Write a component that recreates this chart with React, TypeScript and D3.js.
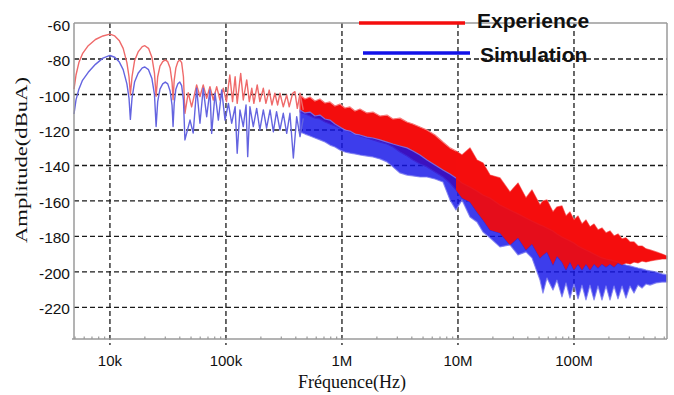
import React from "react";
import * as d3 from "d3";

const W = 674;
const H = 395;

// Axis definitions
const xDomain: [number, number] = [4900, 633.5e6];
const yDomain: [number, number] = [-237.8, -59.7];
const xTickValues = [1e4, 1e5, 1e6, 1e7, 1e8];
const xTickLabels = ["10k", "100k", "1M", "10M", "100M"];
const yTickValues = [-60, -80, -100, -120, -140, -160, -180, -200, -220];
const seriesNames = ["Experience", "Simulation"];
const xTitle = "Fréquence(Hz)";
const yTitle = "Amplitude(dBuA)";
const overlapSwitchFreq = 9.6e6; // above this the experience band is drawn on top

// Low-frequency / sparse part of the spectra (Hz, dBuA)
const redLineFreq = [4900, 5100, 5400, 5800, 6500, 7500, 8700, 10000, 11000, 12000, 13000, 14000, 14600, 15000, 15500, 16300, 17500, 19000, 20000, 21500, 23000, 24200, 25000, 25800, 27000, 28500, 30000, 31500, 33000, 34300, 35000, 35800, 37000, 38500, 40000, 41500, 43000, 44300, 47300, 50600, 55900, 59700, 63700, 68200, 72800, 77800, 83200, 88800, 94900, 101000, 108000, 114000, 120000, 125000, 134000, 141000, 151000, 159000, 167000, 174000, 186000, 196000, 210000, 221000, 236000, 249000, 264000, 279000, 292000, 312000, 334000, 351000, 376000, 393000, 412000, 435000, 464000];
const redLineVal = [-97, -89, -82, -77, -72.5, -69, -67, -66, -67, -69.5, -74, -82, -90, -100, -90, -81, -76, -73, -72.5, -74, -79, -88, -101, -90, -84, -81.5, -80.5, -81.5, -85, -93, -103, -92, -85, -81.5, -80.5, -82, -90, -110.6, -99, -107, -94.6, -101.2, -94.6, -102.1, -95.6, -103.1, -95.6, -103.1, -96.5, -104, -89, -104, -90, -105, -88.1, -103.1, -91.8, -104, -96.5, -105, -94.6, -104, -96.5, -105, -97.5, -105.9, -99.3, -105.9, -99.3, -106.9, -100.3, -106.9, -99.3, -98.4, -107.8, -99.3, -108.7];

const blueLineFreq = [4900, 5100, 5400, 5800, 6500, 7500, 8700, 10000, 11000, 12000, 13000, 14000, 14600, 15000, 15500, 16300, 17500, 19000, 20000, 21500, 23000, 24200, 25000, 25800, 27000, 28500, 30000, 31500, 33000, 34300, 35000, 35800, 37000, 38500, 40000, 41500, 43000, 44300, 49000, 52200, 55900, 59700, 63700, 68200, 72800, 75300, 80600, 86000, 91900, 98200, 105000, 112000, 120000, 125000, 132000, 141000, 149000, 154000, 161000, 172000, 184000, 196000, 210000, 224000, 240000, 256000, 273000, 292000, 312000, 334000, 356000, 381000, 407000, 435000, 464000];
const blueLineVal = [-111, -103, -97, -92, -87.5, -83, -79.5, -78, -79, -81.5, -86, -94, -102, -114, -102, -93, -88, -85, -84.5, -86, -91, -100, -118, -104, -97, -94, -93, -94, -98, -106, -118, -105, -97, -94, -93, -95, -103, -125.6, -114.4, -121.7, -96.5, -116.2, -96.5, -112.5, -97.5, -121.9, -99.3, -114.4, -97.5, -114.4, -105, -116.2, -106.9, -133.1, -108.7, -118.1, -105.9, -135, -106.9, -118.1, -107.8, -120, -108.7, -119, -108.7, -121, -109.7, -120, -110.6, -121.9, -110.6, -135.8, -112.5, -123.7, -113.4];

// Dense part of the spectra: envelopes (Hz, dBuA)
const bandFreq = [434e3, 480e3, 530e3, 585e3, 646e3, 714e3, 788e3, 870e3, 961e3, 1.061e6, 1.172e6, 1.294e6, 1.429e6, 1.643e6, 1.851e6, 2.127e6, 2.444e6, 2.753e6, 3.162e6, 3.634e6, 4.094e6, 4.704e6, 5.404e6, 6.335e6, 7.425e6, 8.533e6, 9.611e6, 10.83e6, 12.69e6, 14.58e6, 16.43e6, 18.88e6, 23.01e6, 28.07e6, 32.92e6, 38.58e6, 43.45e6, 50.93e6, 54.04e6, 58.51e6, 65.91e6, 71.35e6, 78.79e6, 85.33e6, 92.37e6, 100e6, 108.3e6, 117.2e6, 126.9e6, 137.4e6, 148.8e6, 161.0e6, 174.3e6, 188.8e6, 204.4e6, 221.3e6, 239.5e6, 259.4e6, 280.7e6, 304.0e6, 329.2e6, 356.2e6, 385.8e6, 417.6e6, 452.1e6, 509.3e6, 573.6e6, 633.5e6];
const redTop = [-100.3, -102.5, -101.4, -103.7, -102.5, -104.8, -104.2, -106.5, -105.4, -107.6, -107.0, -109.3, -108.2, -110.4, -109.9, -112.1, -111.6, -113.8, -113.3, -115.5, -116.6, -118.3, -120.0, -122.8, -126.8, -130.1, -131.8, -134.1, -130.1, -136.9, -138.6, -145.4, -147.0, -155.0, -149.9, -158.3, -153.8, -162.3, -160.0, -159.4, -166.2, -163.4, -162.8, -168.5, -166.2, -170.7, -168.5, -173.0, -170.7, -174.6, -173.0, -176.3, -175.2, -178.0, -176.9, -179.7, -178.6, -181.4, -180.8, -183.1, -183.1, -185.4, -185.4, -187.0, -187.6, -188.7, -189.9, -191.0];
const redBottom = [-109.9, -111.0, -112.1, -113.3, -113.8, -115.5, -116.6, -117.7, -118.9, -120.0, -121.1, -122.3, -123.4, -124.5, -125.6, -126.8, -127.9, -129.6, -132.4, -134.7, -136.9, -139.2, -140.8, -143.7, -146.5, -149.9, -153.8, -158.3, -160.6, -166.2, -170.7, -176.3, -178.0, -184.8, -180.8, -187.6, -184.2, -192.1, -190.4, -188.7, -196.1, -191.0, -194.4, -198.9, -194.4, -198.9, -195.5, -198.9, -195.5, -198.9, -195.5, -197.8, -195.5, -197.2, -195.5, -197.2, -194.9, -196.1, -194.9, -195.5, -194.4, -194.9, -193.8, -194.4, -193.8, -193.2, -192.7, -192.7];
const blueTop = [-108.7, -110.4, -109.9, -112.1, -111.6, -113.8, -114.4, -116.6, -118.3, -120.0, -120.6, -122.3, -122.8, -124.0, -124.5, -125.6, -126.8, -127.9, -129.0, -130.1, -131.8, -134.1, -136.9, -139.7, -142.5, -144.8, -147.0, -149.9, -152.1, -154.4, -156.6, -158.3, -162.3, -165.1, -167.3, -169.6, -171.3, -173.5, -174.1, -175.2, -176.9, -178.6, -180.3, -181.4, -182.5, -183.7, -185.4, -186.5, -187.6, -188.7, -189.9, -191.0, -192.1, -192.7, -193.2, -193.8, -194.4, -195.5, -196.1, -196.6, -197.2, -197.8, -198.3, -198.9, -199.4, -200.0, -201.1, -201.7];
const blueBottom = [-121.1, -122.3, -123.4, -124.5, -125.6, -126.8, -128.5, -129.6, -131.3, -132.4, -133.0, -133.5, -134.1, -134.7, -135.2, -136.3, -138.0, -140.8, -144.2, -145.4, -145.9, -146.5, -146.5, -147.6, -149.3, -159.4, -165.1, -159.4, -169.0, -171.8, -177.5, -180.8, -185.9, -184.8, -190.4, -188.7, -192.1, -204.6, -211.9, -203.4, -210.2, -204.6, -214.1, -206.2, -214.7, -206.8, -215.2, -207.4, -215.8, -207.4, -215.8, -207.9, -215.8, -207.9, -215.8, -207.9, -215.2, -207.9, -214.7, -207.9, -211.9, -207.4, -209.1, -206.8, -207.4, -206.2, -205.7, -205.7];

const RED = "#f40d0d";
const BLUE = "#1212e8";
const RED_LIGHT = "#ef6a6a";
const BLUE_LIGHT = "#6464e0";
const GRID = "#1a1a1a";
const FRAME = "#9a9a9a";

export default function App() {
  const left = 74, right = 667, top = 23, bottom = 339;
  const x = d3.scaleLog().domain(xDomain).range([left, right]);
  const y = d3.scaleLinear().domain(yDomain).range([bottom, top]);

  const line = d3
    .line<[number, number]>()
    .x((d) => x(d[0]))
    .y((d) => y(d[1]));

  const redPts = redLineFreq.map((f, i) => [f, redLineVal[i]] as [number, number]);
  const bluePts = blueLineFreq.map((f, i) => [f, blueLineVal[i]] as [number, number]);

  const idx = bandFreq.map((_, i) => i);
  const redArea = d3
    .area<number>()
    .x((i) => x(bandFreq[i]))
    .y0((i) => y(redBottom[i]))
    .y1((i) => y(redTop[i]))(idx) || "";
  const blueArea = d3
    .area<number>()
    .x((i) => x(bandFreq[i]))
    .y0((i) => y(blueBottom[i]))
    .y1((i) => y(blueTop[i]))(idx) || "";

  const minorTicks = x.ticks(40).filter((t) => {
    const r = t / Math.pow(10, Math.floor(Math.log10(t) + 1e-9));
    return Math.abs(r - 1) > 1e-6;
  });

  const sans = "'Liberation Sans', Arial, Helvetica, sans-serif";
  const serif = "'Liberation Serif', 'Times New Roman', serif";
  const xs = x(overlapSwitchFreq);

  return (
    <svg
      width={W}
      height={H}
      viewBox={`0 0 ${W} ${H}`}
      style={{ position: "absolute", left: 0, top: 0, background: "#fff" }}
    >
      <defs>
        <clipPath id="hiFreq">
          <rect x={xs} y={0} width={W - xs} height={H} />
        </clipPath>
      </defs>
      <rect x={0} y={0} width={W} height={H} fill="#fff" />

      {/* grid */}
      {yTickValues
        .filter((v) => v !== -60)
        .map((v) => (
          <line
            key={"gy" + v}
            x1={left}
            x2={right}
            y1={y(v)}
            y2={y(v)}
            stroke={GRID}
            strokeWidth={1.3}
            strokeDasharray="5,3"
          />
        ))}
      {xTickValues.map((v) => (
        <line
          key={"gx" + v}
          x1={x(v)}
          x2={x(v)}
          y1={top}
          y2={bottom + 6}
          stroke={GRID}
          strokeWidth={1.3}
          strokeDasharray="5,3"
        />
      ))}

      {/* dense bands */}
      <path d={redArea} fill={RED} stroke="#f77a7a" strokeWidth={1.2} strokeLinejoin="round" />
      <path d={blueArea} fill={BLUE} fillOpacity={0.82} stroke="#7a7af0" strokeOpacity={0.8} strokeWidth={1.2} strokeLinejoin="round" />
      <path d={redArea} fill={RED} fillOpacity={0.92} clipPath="url(#hiFreq)" />

      {/* sparse lines */}
      <path d={line(redPts) || ""} fill="none" stroke={RED_LIGHT} strokeWidth={1.4} strokeLinejoin="round" />
      <path d={line(bluePts) || ""} fill="none" stroke={BLUE_LIGHT} strokeWidth={1.4} strokeLinejoin="round" />

      {/* frame */}
      <line x1={left} x2={right} y1={top} y2={top} stroke={FRAME} strokeWidth={1.5} />
      <line x1={right} x2={right} y1={top} y2={bottom} stroke={FRAME} strokeWidth={1.5} />
      <line x1={left} x2={left} y1={top} y2={bottom} stroke={FRAME} strokeWidth={1.5} />
      <line x1={left - 2} x2={right} y1={bottom} y2={bottom} stroke={FRAME} strokeWidth={1.5} />
      {minorTicks.map((t) => (
        <line key={"mt" + t} x1={x(t)} x2={x(t)} y1={bottom} y2={bottom - 2.5} stroke={FRAME} strokeWidth={1.2} />
      ))}

      {/* y tick labels */}
      {yTickValues.map((v) => (
        <text
          key={"yl" + v}
          x={70}
          y={y(v) + 1.5}
          textAnchor="end"
          dominantBaseline="central"
          fontFamily={sans}
          fontSize={15.5}
          fill="#111"
        >
          {v}
        </text>
      ))}

      {/* x tick labels */}
      {xTickValues.map((v, i) => (
        <text
          key={"xl" + v}
          x={x(v)}
          y={366}
          textAnchor="middle"
          fontFamily={sans}
          fontSize={15}
          fill="#111"
        >
          {xTickLabels[i]}
        </text>
      ))}

      {/* axis titles */}
      <text x={352} y={388} textAnchor="middle" fontFamily={serif} fontSize={18} fill="#111">
        {xTitle}
      </text>
      <text
        transform="translate(21.5,160) rotate(-90)"
        textAnchor="middle"
        dominantBaseline="central"
        fontFamily={serif}
        fontSize={17}
        textLength={166}
        lengthAdjust="spacingAndGlyphs"
        fill="#111"
      >
        {yTitle}
      </text>

      {/* legend */}
      <line x1={359} x2={465} y1={23} y2={23} stroke={RED} strokeWidth={3.5} />
      <text x={477} y={28} fontFamily={sans} fontWeight="bold" fontSize={21} fill="#111">
        {seriesNames[0]}
      </text>
      <line x1={363} x2={470} y1={53} y2={53} stroke={BLUE} strokeWidth={3.5} />
      <text x={480} y={62} fontFamily={sans} fontWeight="bold" fontSize={21} fill="#111">
        {seriesNames[1]}
      </text>
    </svg>
  );
}
